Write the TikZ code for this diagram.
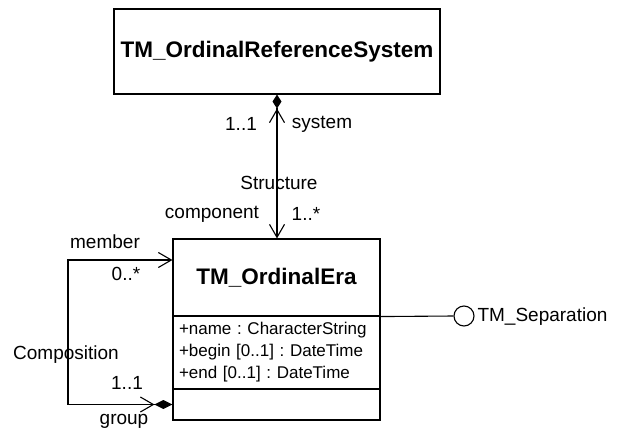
\documentclass[tikz,border=0pt]{standalone}
\usepackage{fontspec}
\setmainfont{Liberation Sans}
\usetikzlibrary{arrows.meta}
\frenchspacing
\begin{document}
\begin{tikzpicture}[x=1pt,y=-1pt,
  line width=1.1pt,
  umlbox/.style={draw, line width=1.1pt, inner sep=0pt},
  classname/.style={font=\fontsize{22.5}{26}\selectfont\bfseries},
  lbl/.style={font=\fontsize{19}{22}\selectfont, inner sep=0pt},
  attrs/.style={font=\fontsize{17}{22}\selectfont\frenchspacing, align=left, text width=195pt, inner xsep=6pt, inner ysep=0pt}
]
\useasboundingbox (0,0) rectangle (619,432);

% classes
\node[umlbox, classname, minimum width=326pt, minimum height=85pt] (sys) at (277,51.5) {TM\_OrdinalReferenceSystem};
\node[umlbox, classname, minimum width=207pt, minimum height=77pt] (era) at (276.5,277.5) {TM\_OrdinalEra};
\node[umlbox, attrs, minimum width=207pt, minimum height=73pt] (eraattr) at (276.5,352.5) {+name : CharacterString\\+begin [0..1] : DateTime\\+end [0..1] : DateTime};
\node[umlbox, minimum width=207pt, minimum height=31pt] (eraops) at (276.5,404.5) {};

% interface
\node[draw, circle, line width=1.1pt, minimum size=20pt, inner sep=0pt] (sep) at (464,316) {};
\node[lbl, anchor=west] (seplbl) at (477,317) {TM\_Separation};
\draw (era.south east) -- (sep.west);

% Structure association
\draw[{Straight Barb[length=13pt,width=15pt]}-{Straight Barb[length=13pt,width=15pt]Diamond[length=14pt,width=9pt]}]
  (era.north -| sys.south) -- (sys.south);
\node[lbl] (s11) at (241,124) {1..1};
\node[lbl] (ssys) at (322,124) {system};
\node[lbl] (sstr) at (279,183) {Structure};
\node[lbl] (scomp) at (212,214) {component};
\node[lbl] (s1n) at (306,214) {1..*};

% Composition association (self)
\coordinate (loopTL) at (68,260);
\draw[{Straight Barb[length=13pt,width=15pt]}-{Straight Barb[length=13pt,width=15pt]Diamond[length=18pt,width=9pt]}]
  (era.west |- loopTL) -- (loopTL) |- (eraops.west);
\node[lbl] (cmem) at (105,242) {member};
\node[lbl] (c0n) at (126,274) {0..*};
\node[lbl] (ccomp) at (66,355) {Composition};
\node[lbl] (c11) at (127,383) {1..1};
\node[lbl] (cgrp) at (124,421) {group};
\end{tikzpicture}
\end{document}
